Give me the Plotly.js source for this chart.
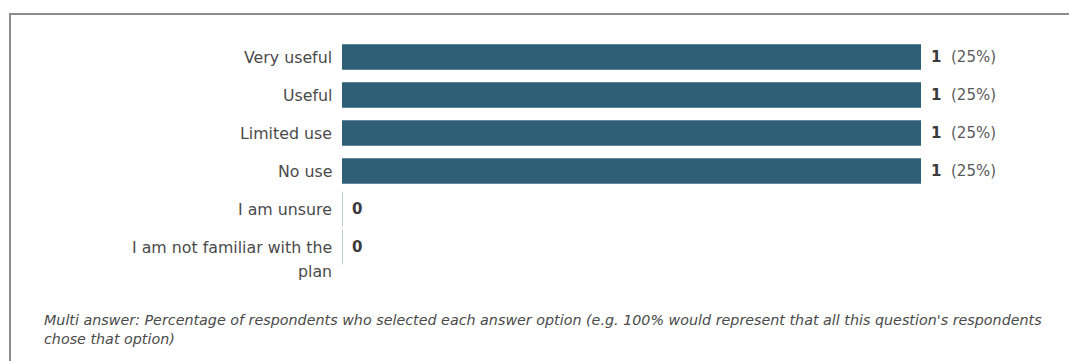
<!DOCTYPE html>
<html>
<head>
<meta charset="utf-8">
<script src="https://cdn.plot.ly/plotly-3.0.1.min.js"></script>
<style>
  html, body { margin: 0; padding: 0; background: #fff; }
  #wrap { position: relative; width: 1069px; height: 361px; overflow: hidden; }
  #chart { position: absolute; left: 0; top: 0; width: 1069px; height: 361px; }
  #frame { position: absolute; left: 9px; top: 13px; width: 1100px; height: 400px;
           border-top: 2px solid #8c8c8c; border-left: 2px solid #8c8c8c; pointer-events: none; }
</style>
</head>
<body>
<div id="wrap">
  <div id="chart"></div>
  <div id="frame"></div>
</div>
<script>
// ---- data ----
const categories = ["Very useful", "Useful", "Limited use", "No use", "I am unsure", "I am not familiar with the<br>plan"];
const counts = [1, 1, 1, 1, 0, 0];
const percents = ["25%", "25%", "25%", "25%", "", ""];
const footnote = "Multi answer: Percentage of respondents who selected each answer option (e.g. 100% would represent that all this question's respondents<br>chose that option)";

// ---- layout constants ----
const W = 1069, H = 361;
const M = { l: 342, r: 148, t: 38, b: 95 };
const plotW = W - M.l - M.r, plotH = H - M.t - M.b;
const FONT = "DejaVu Sans, Verdana, sans-serif";
const barColor = "#2e5f76";

const idx = categories.map((_, i) => i);

const bars = {
  type: "bar", orientation: "h",
  x: counts, y: idx,
  marker: { color: barColor, line: { width: 0 } },
  hoverinfo: "skip", showlegend: false
};

const zeroIdx = idx.filter(i => counts[i] === 0);
const zeroMarks = {
  type: "scatter", mode: "markers",
  x: zeroIdx.map(i => counts[i]), y: zeroIdx,
  marker: { symbol: "line-ns", size: 25, line: { color: "#bccbd4", width: 2 } },
  hoverinfo: "skip", showlegend: false
};

const annotations = [];
// category labels
categories.forEach((c, i) => {
  c.split("<br>").forEach((line, k) => {
    annotations.push({
      text: line, xref: "paper", x: 0, xanchor: "right", xshift: -8,
      yref: "y", y: i, yanchor: "middle", yshift: -24 * k,
      showarrow: false, font: { family: FONT, size: 15.8, color: "#4a4a4a" }
    });
  });
});
// value labels
counts.forEach((v, i) => {
  const txt = "<b>" + v + "</b>" + (percents[i] ? "  <span style='color:#5a5a5a'>(" + percents[i] + ")</span>" : "");
  annotations.push({
    text: txt, xref: "x", x: v, xanchor: "left", xshift: 8,
    yref: "y", y: i, yanchor: "middle",
    showarrow: false, font: { family: FONT, size: 15, color: "#3a3a3a" }
  });
});
// footnote
annotations.push({
  text: "<i>" + footnote + "</i>", xref: "paper", x: (42 - M.l) / plotW, xanchor: "left",
  yref: "paper", y: (H - M.b - 310) / plotH, yanchor: "top", align: "left",
  showarrow: false, font: { family: FONT, size: 14.3, color: "#4a4a4a" }
});

const layout = {
  width: W, height: H,
  margin: M,
  paper_bgcolor: "#fff", plot_bgcolor: "#fff",
  bargap: 0.33,
  xaxis: { range: [0, 1], visible: false, fixedrange: true },
  yaxis: { range: [categories.length - 0.5, -0.5], visible: false, fixedrange: true },
  annotations: annotations,
  showlegend: false
};

Plotly.newPlot("chart", [bars, zeroMarks], layout, { staticPlot: true, displayModeBar: false });
</script>
</body>
</html>
